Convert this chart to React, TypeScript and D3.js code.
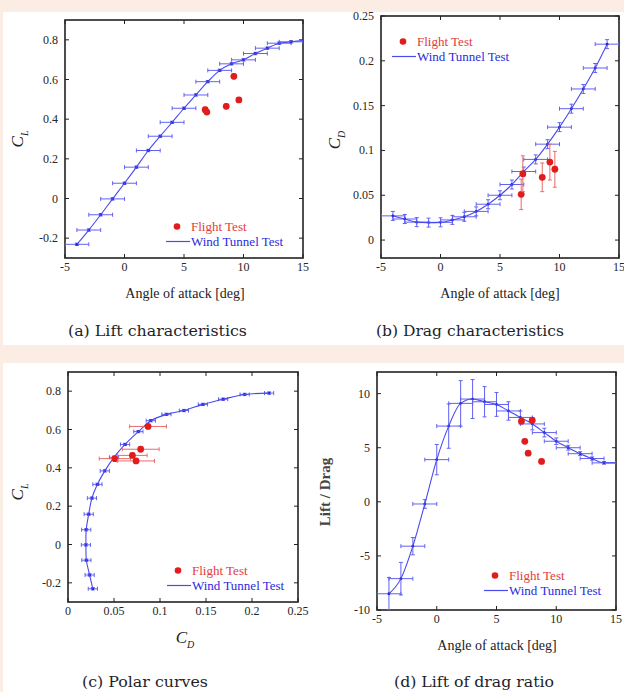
import React from 'react'
import * as d3 from 'd3'

// wind tunnel test, one point per degree
const alpha = [-4, -3, -2, -1, 0, 1, 2, 3, 4, 5, 6, 7, 8, 9, 10, 11, 12, 13, 14]
const windCL = [-0.231, -0.159, -0.082, -0.002, 0.077, 0.158, 0.242, 0.314, 0.384, 0.455, 0.522, 0.589, 0.646, 0.679, 0.699, 0.731, 0.758, 0.783, 0.79]
const windCD = [0.027, 0.0235, 0.02, 0.0195, 0.0198, 0.0225, 0.026, 0.032, 0.04, 0.05, 0.062, 0.0765, 0.09, 0.107, 0.126, 0.1466, 0.1686, 0.192, 0.2186]
const windLD = [-8.5, -7.1, -4.1, -0.2, 3.9, 7.0, 9.1, 9.5, 9.25, 9.0, 8.4, 7.8, 7.2, 6.4, 5.6, 5.0, 4.45, 4.0, 3.6]
const windLDErr = [1.5, 1.5, 0.8, 0.4, 1.4, 2.05, 2.1, 1.8, 1.4, 1.1, 0.85, 0.6, 0.55, 0.4, 0.3, 0.22, 0.18, 0.15, 0.12]
const alphaErr = 1
const windCLErr = 0.006
const windCDErr = 0.005
// the fitted lines run on to the right frame
const lineEndAlpha = 15
const windCLEnd = 0.797
const windLDEnd = 3.6

// flight test
const flightAlpha = [6.78, 6.92, 8.55, 9.19, 9.61]
const flightCL = [0.448, 0.436, 0.465, 0.616, 0.497]
const flightCLErr = [0.012, 0.012, 0.012, 0.012, 0.012]
const flightCD = [0.051, 0.074, 0.07, 0.087, 0.079]
const flightCDErr = [0.017, 0.02, 0.016, 0.02, 0.02]
const flightLDAlpha = [7.09, 7.99, 7.37, 7.65, 8.77]
const flightLD = [7.45, 7.55, 5.59, 4.5, 3.73]

// ticks
const alphaTicks = [-5, 0, 5, 10, 15]
const clTicks = [-0.2, 0, 0.2, 0.4, 0.6, 0.8]
const cdTicks = [0, 0.05, 0.1, 0.15, 0.2, 0.25]
const ldTicks = [-10, -5, 0, 5, 10]

const serif = "'Liberation Serif', 'Times New Roman', serif"
const capFont = "'DejaVu Serif', serif"
const RED = '#e01c1c'
const RED_BAR = '#ea6a6a'
const BLUE_LINE = '#4a4af0'
const BLUE_BAR = '#6262f2'
const BLUE_DOT = '#2020c8'
const FRAME = '#222'

type Box = { l: number; r: number; t: number; b: number }
type Sc = d3.ScaleLinear<number, number>

function Axes({ id, f, x, y, xTicks, yTicks }: { id: string; f: Box; x: Sc; y: Sc; xTicks: number[]; yTicks: number[] }) {
  return (
    <g>
      <clipPath id={id}>
        <rect x={f.l} y={f.t} width={f.r - f.l} height={f.b - f.t} />
      </clipPath>
      <rect x={f.l} y={f.t} width={f.r - f.l} height={f.b - f.t} fill="none" stroke={FRAME} strokeWidth={1.6} />
      {xTicks.map(t => (
        <g key={'x' + t}>
          <line x1={x(t)} x2={x(t)} y1={f.b} y2={f.b - 4} stroke={FRAME} />
          <line x1={x(t)} x2={x(t)} y1={f.t} y2={f.t + 4} stroke={FRAME} />
          <text x={x(t)} y={f.b + 13} textAnchor="middle" fontSize={12} fill="#262626" fontFamily={serif}>{String(t)}</text>
        </g>
      ))}
      {yTicks.map(t => (
        <g key={'y' + t}>
          <line x1={f.l} x2={f.l + 4} y1={y(t)} y2={y(t)} stroke={FRAME} />
          <line x1={f.r} x2={f.r - 4} y1={y(t)} y2={y(t)} stroke={FRAME} />
          <text x={f.l - 7} y={y(t) + 4} textAnchor="end" fontSize={12} fill="#262626" fontFamily={serif}>{String(t)}</text>
        </g>
      ))}
    </g>
  )
}

function ErrPoints({ x, y, xs, ys, xe, ye, color, dot, r }: {
  x: Sc; y: Sc; xs: number[]; ys: number[]; xe: number[] | number; ye: number[] | number; color: string; dot: string; r: number
}) {
  const ex = (i: number) => (typeof xe === 'number' ? xe : xe[i])
  const ey = (i: number) => (typeof ye === 'number' ? ye : ye[i])
  return (
    <g>
      {xs.map((v, i) => {
        const cx = x(v), cy = y(ys[i])
        const x0 = x(v - ex(i)), x1 = x(v + ex(i))
        const y0 = y(ys[i] - ey(i)), y1 = y(ys[i] + ey(i))
        return (
          <g key={i} stroke={color} strokeWidth={1}>
            <line x1={x0} x2={x1} y1={cy} y2={cy} />
            <line x1={x0} x2={x0} y1={cy - 2} y2={cy + 2} />
            <line x1={x1} x2={x1} y1={cy - 2} y2={cy + 2} />
            <line x1={cx} x2={cx} y1={y0} y2={y1} />
            <line x1={cx - 2} x2={cx + 2} y1={y0} y2={y0} />
            <line x1={cx - 2} x2={cx + 2} y1={y1} y2={y1} />
            <circle cx={cx} cy={cy} r={r} fill={dot} stroke="none" />
          </g>
        )
      })}
    </g>
  )
}

function Legend({ x, y }: { x: number; y: number }) {
  // x: start of the legend texts, y: baseline of "Flight Test"
  return (
    <g fontFamily={serif} fontSize={13}>
      <circle cx={x - 14} cy={y - 4.5} r={3.3} fill={RED} />
      <text x={x} y={y} fill="#e43a3a">Flight Test</text>
      <line x1={x - 25} x2={x - 1} y1={y + 10.5} y2={y + 10.5} stroke={BLUE_LINE} strokeWidth={1.2} />
      <text x={x} y={y + 15} fill="#2a2ae0">Wind Tunnel Test</text>
    </g>
  )
}

function CLabel({ x, y, sub, rotate }: { x: number; y: number; sub: string; rotate: boolean }) {
  return (
    <text transform={`translate(${x},${y})${rotate ? ' rotate(-90)' : ''}`} textAnchor="middle" fontFamily={serif} fill="#222">
      <tspan fontSize={17} fontStyle="italic">C</tspan>
      <tspan fontSize={10} fontStyle="italic" dy={5}>{sub}</tspan>
    </text>
  )
}

const monotone = d3.line<[number, number]>().curve(d3.curveMonotoneX)
const catmull = d3.line<[number, number]>().curve(d3.curveCatmullRom.alpha(0.5))

export default function App() {
  // (a) lift
  const fa: Box = { l: 65, r: 303, t: 20, b: 258 }
  const xa = d3.scaleLinear().domain([-5, 15]).range([fa.l, fa.r])
  const ya = d3.scaleLinear().domain([-0.3, 0.9]).range([fa.b, fa.t])
  const lineA = monotone([...alpha.map((a, i) => [xa(a), ya(windCL[i])] as [number, number]), [xa(lineEndAlpha), ya(windCLEnd)]])

  // (b) drag
  const fb: Box = { l: 381, r: 619, t: 16, b: 258 }
  const xb = d3.scaleLinear().domain([-5, 15]).range([fb.l, fb.r])
  const yb = d3.scaleLinear().domain([-0.02, 0.25]).range([fb.b, fb.t])
  const lineB = monotone(alpha.map((a, i) => [xb(a), yb(windCD[i])] as [number, number]))

  // (c) polar
  const fc: Box = { l: 68, r: 298, t: 372, b: 602 }
  const xc = d3.scaleLinear().domain([0, 0.25]).range([fc.l, fc.r])
  const yc = d3.scaleLinear().domain([-0.3, 0.9]).range([fc.b, fc.t])
  const lineC = catmull(alpha.map((_, i) => [xc(windCD[i]), yc(windCL[i])] as [number, number]))

  // (d) lift / drag
  const fd: Box = { l: 377, r: 616, t: 372, b: 610 }
  const xd = d3.scaleLinear().domain([-5, 15]).range([fd.l, fd.r])
  const yd = d3.scaleLinear().domain([-10, 12]).range([fd.b, fd.t])
  const lineD = monotone([...alpha.map((a, i) => [xd(a), yd(windLD[i])] as [number, number]), [xd(lineEndAlpha), yd(windLDEnd)]])

  const xTitle = (cx: number, by: number) => (
    <text x={cx} y={by} textAnchor="middle" fontSize={14} fontFamily={serif} fill="#222">Angle of attack [deg]</text>
  )
  const caption = (x: number, y: number, w: number, s: string) => (
    <text x={x} y={y} fontSize={15} fontFamily={capFont} fill="#1e1e2a" textLength={w} lengthAdjust="spacingAndGlyphs">{s}</text>
  )

  return (
    <svg width={624} height={692} style={{ position: 'absolute', left: 0, top: 0 }}>
      <rect x={0} y={0} width={624} height={692} fill="#fbede3" />
      <rect x={3} y={12} width={621} height={333} fill="#fff" />
      <rect x={3} y={363} width={621} height={329} fill="#fff" />

      {/* (a) */}
      <Axes id="ca" f={fa} x={xa} y={ya} xTicks={alphaTicks} yTicks={clTicks} />
      <g clipPath="url(#ca)">
        <ErrPoints x={xa} y={ya} xs={alpha} ys={windCL} xe={alphaErr} ye={windCLErr} color={BLUE_BAR} dot={BLUE_DOT} r={1.4} />
        <path d={lineA ?? ''} fill="none" stroke={BLUE_LINE} strokeWidth={1.1} />
        <ErrPoints x={xa} y={ya} xs={flightAlpha} ys={flightCL} xe={0} ye={flightCLErr} color={RED_BAR} dot={RED} r={3.4} />
      </g>
      <Legend x={191} y={231} />
      <CLabel x={23} y={139} sub="L" rotate />
      {xTitle(185, 298)}
      {caption(68, 336, 179, '(a) Lift characteristics')}

      {/* (b) */}
      <Axes id="cb" f={fb} x={xb} y={yb} xTicks={alphaTicks} yTicks={cdTicks} />
      <g clipPath="url(#cb)">
        <ErrPoints x={xb} y={yb} xs={alpha} ys={windCD} xe={alphaErr} ye={windCDErr} color={BLUE_BAR} dot={BLUE_DOT} r={1.4} />
        <path d={lineB ?? ''} fill="none" stroke={BLUE_LINE} strokeWidth={1.1} />
        <ErrPoints x={xb} y={yb} xs={flightAlpha} ys={flightCD} xe={0} ye={flightCDErr} color={RED_BAR} dot={RED} r={3.4} />
      </g>
      <Legend x={417} y={46} />
      <CLabel x={340} y={140} sub="D" rotate />
      {xTitle(500, 298)}
      {caption(376, 336, 188, '(b) Drag characteristics')}

      {/* (c) */}
      <Axes id="cc" f={fc} x={xc} y={yc} xTicks={cdTicks} yTicks={clTicks} />
      <g clipPath="url(#cc)">
        <ErrPoints x={xc} y={yc} xs={windCD} ys={windCL} xe={windCDErr} ye={windCLErr} color={BLUE_BAR} dot={BLUE_DOT} r={1.4} />
        <path d={lineC ?? ''} fill="none" stroke={BLUE_LINE} strokeWidth={1.1} />
        <ErrPoints x={xc} y={yc} xs={flightCD} ys={flightCL} xe={flightCDErr} ye={flightCLErr} color={RED_BAR} dot={RED} r={3.4} />
      </g>
      <Legend x={192} y={575} />
      <CLabel x={23} y={492} sub="L" rotate />
      <CLabel x={185} y={643} sub="D" rotate={false} />
      {caption(82, 687, 126, '(c) Polar curves')}

      {/* (d) */}
      <Axes id="cd" f={fd} x={xd} y={yd} xTicks={alphaTicks} yTicks={ldTicks} />
      <g clipPath="url(#cd)">
        <ErrPoints x={xd} y={yd} xs={alpha} ys={windLD} xe={alphaErr} ye={windLDErr} color={BLUE_BAR} dot={BLUE_DOT} r={1.4} />
        <path d={lineD ?? ''} fill="none" stroke={BLUE_LINE} strokeWidth={1.1} />
        {flightLDAlpha.map((a, i) => (
          <circle key={i} cx={xd(a)} cy={yd(flightLD[i])} r={3.4} fill={RED} />
        ))}
      </g>
      <Legend x={509} y={580} />
      <text transform="translate(330,492) rotate(-90)" textAnchor="middle" fontSize={15} fontWeight="bold" fontFamily={serif} fill="#444">Lift / Drag</text>
      {xTitle(497, 650)}
      {caption(394, 687, 160, '(d) Lift of drag ratio')}
    </svg>
  )
}
